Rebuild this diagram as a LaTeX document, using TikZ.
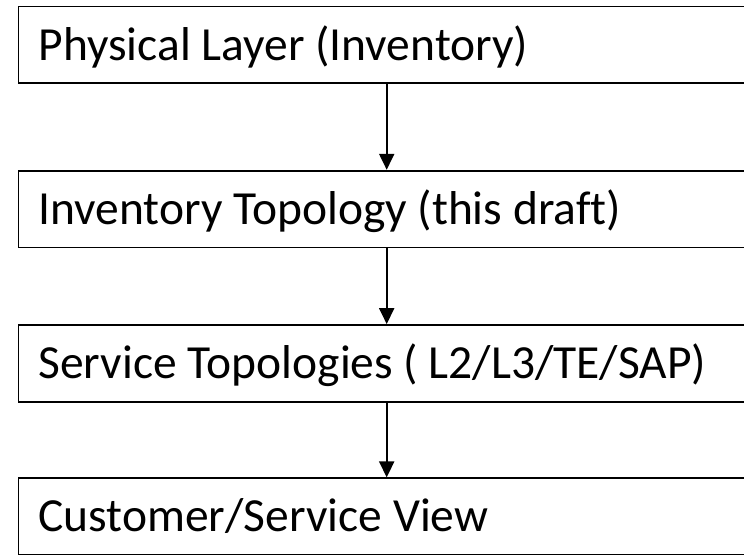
\documentclass[tikz,border=0pt]{standalone}
\usepackage{fontspec}
\setmainfont{Carlito}[Ligatures=NoCommon]
\usetikzlibrary{arrows.meta}
\begin{document}
\begin{tikzpicture}[x=1pt,y=-1pt,
  layerbox/.style={draw=black, line width=1.8pt, fill=white,
    text width=696.4pt, inner xsep=20pt, align=flush left,
    minimum height=76.8pt, text height=30.2pt, text depth=0pt,
    font=\fontsize{47.5}{56}\selectfont},
  flow/.style={draw=black, line width=2pt, -{Triangle[length=16pt,width=15pt]}}]
  \useasboundingbox (0,0) rectangle (744,554);
  % four stacked layers, each box runs past the right edge
  \node[layerbox] (phys) at (386.7,44.9)  {Physical Layer (Inventory)};
  \node[layerbox] (inv)  at (386.7,209.1) {Inventory Topology (this draft)};
  \node[layerbox] (svc)  at (386.7,363.4) {Service Topologies ( L2/L3/TE/SAP)};
  \node[layerbox] (cust) at (386.7,516.7) {Customer/Service View};
  % downward arrows between layers
  \draw[flow] (phys) -- (inv);
  \draw[flow] (inv) -- (svc);
  \draw[flow] (svc) -- (cust);
\end{tikzpicture}
\end{document}
